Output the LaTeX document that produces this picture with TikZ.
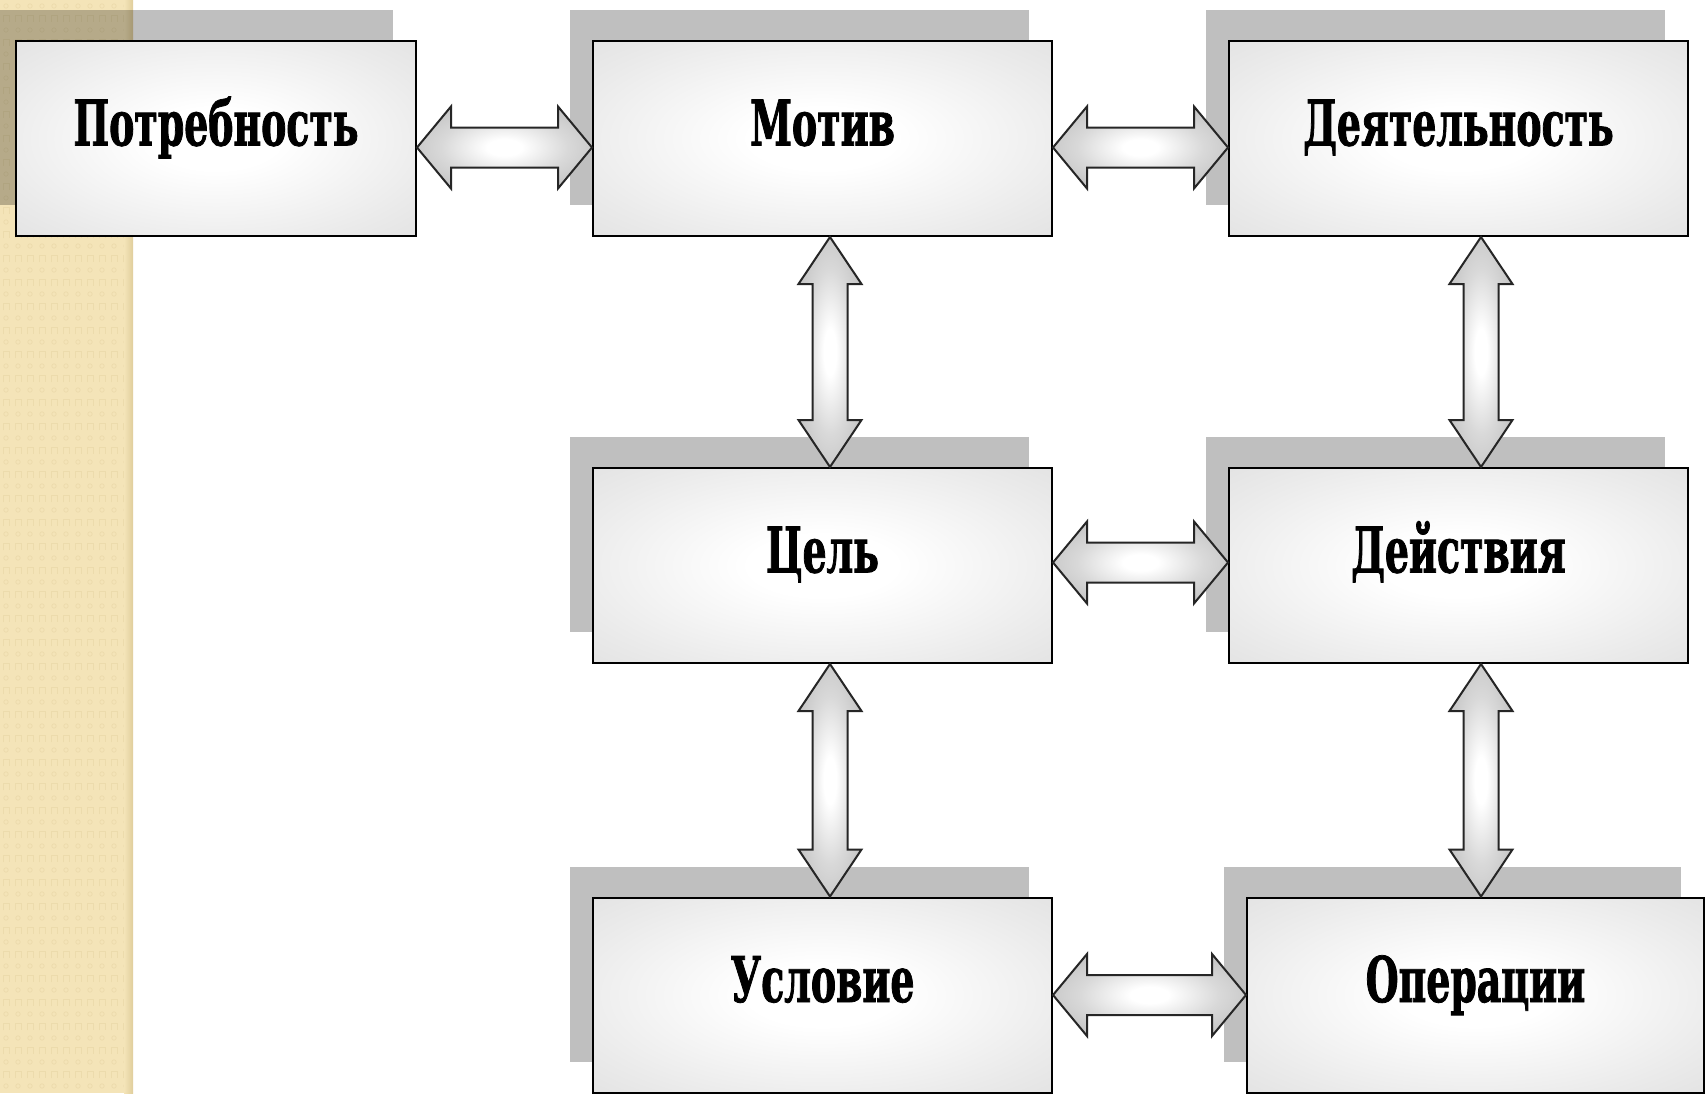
\documentclass[tikz,border=0pt]{standalone}
\usepackage{fontspec}
\usetikzlibrary{calc,shadows}
\newfontfamily\boxfont[FakeStretch=0.6, BoldFeatures={FakeBold=1.2}]{DejaVu Serif}
\definecolor{beige}{RGB}{244,228,184}
\definecolor{beigedark}{RGB}{236,219,172}
\definecolor{beigeedge}{RGB}{224,206,156}
\pgfdeclareradialshading{boxshade}{\pgfpoint{0bp}{0bp}}{color(0bp)=(white); color(8bp)=(white); color(28bp)=(black!8); color(50bp)=(black!16); color(72bp)=(black!19)}
\pgfdeclareradialshading{arrshade}{\pgfpoint{0bp}{0bp}}{color(0bp)=(white); color(5bp)=(white); color(18bp)=(black!15); color(35bp)=(black!28); color(72bp)=(black!38)}
% double block arrow between two points: from, to, head length, head half width, shaft half width
\newcommand{\ArrowBetween}[5]{%
  \path (#1) coordinate (dA) (#2) coordinate (dB);
  \path ($(dA)!#3!(dB)$) coordinate (hA) ($(dB)!#3!(dA)$) coordinate (hB);
  \draw[arrowst] (dA) -- ($(hA)!#4!90:(dB)$) -- ($(hA)!#5!90:(dB)$)
    -- ($(hB)!#5!-90:(dA)$) -- ($(hB)!#4!-90:(dA)$) -- (dB)
    -- ($(hB)!#4!90:(dA)$) -- ($(hB)!#5!90:(dA)$)
    -- ($(hA)!#5!-90:(dB)$) -- ($(hA)!#4!-90:(dB)$) -- cycle;
}
\begin{document}
\begin{tikzpicture}[x=1pt,y=-1pt,
  box/.style={draw=black, line width=2pt, shade, shading=boxshade,
    minimum height=195pt, inner sep=0pt, text height=36pt, text depth=22pt,
    font=\boxfont\bfseries\fontsize{63}{70}\selectfont,
    general shadow={fill=black, fill opacity=0.25, shadow xshift=-23pt, shadow yshift=31pt}},
  arrowst/.style={draw=black!85, line width=2pt, shade, shading=arrshade, line join=miter}]
\useasboundingbox (0,0) rectangle (1705,1093);
\fill[white] (0,0) rectangle (1705,1093);
% textured beige strip
\fill[beige] (0,0) rectangle (133,1093);
\foreach \i in {0,...,10}{
  \foreach \j in {0,...,45}{
    \draw[beigedark, line width=0.8pt] (\i*12+6, \j*24+6) circle (2.2);
    \draw[beigedark, line width=0.8pt] (\i*12+3, \j*24+22) -- (\i*12+3, \j*24+15) -- (\i*12+9, \j*24+15) -- (\i*12+9, \j*24+22);
  }
}
\shade[left color=beige, right color=beigeedge] (124,0) rectangle (133,1093);
% boxes
\node[box, minimum width=400pt] (pot) at (216,138.5) {Потребность};
\node[box, minimum width=459pt] (mot) at (822.5,138.5) {Мотив};
\node[box, minimum width=459pt] (dey) at (1458.5,138.5) {Деятельность};
\node[box, minimum width=459pt] (tsel) at (822.5,565.5) {Цель};
\node[box, minimum width=459pt] (deyst) at (1458.5,565.5) {Действия};
\node[box, minimum width=459pt] (usl) at (822.5,995) {Условие};
\node[box, minimum width=457pt] (oper) at (1475.5,995) {Операции};
% horizontal connectors
\coordinate (p1) at ([yshift=-9pt]pot.east);
\ArrowBetween{p1}{mot.west |- p1}{34pt}{41pt}{20pt}
\coordinate (p2) at ([yshift=-9pt]mot.east);
\ArrowBetween{p2}{dey.west |- p2}{34pt}{41pt}{20pt}
\coordinate (p3) at ([yshift=3pt]tsel.east);
\ArrowBetween{p3}{deyst.west |- p3}{34pt}{41pt}{20pt}
\coordinate (p4) at (usl.east);
\ArrowBetween{p4}{oper.west |- p4}{34pt}{41pt}{20pt}
% vertical connectors
\coordinate (v1) at ([xshift=7.5pt]mot.south);
\ArrowBetween{v1}{v1 |- tsel.north}{47pt}{31.5pt}{17.5pt}
\coordinate (v2) at ([xshift=22.5pt]dey.south);
\ArrowBetween{v2}{v2 |- deyst.north}{47pt}{31.5pt}{17.5pt}
\coordinate (v3) at ([xshift=7.5pt]tsel.south);
\ArrowBetween{v3}{v3 |- usl.north}{47pt}{31.5pt}{17.5pt}
\coordinate (v4) at ([xshift=22.5pt]deyst.south);
\ArrowBetween{v4}{v4 |- oper.north}{47pt}{31.5pt}{17.5pt}
\end{tikzpicture}
\end{document}
